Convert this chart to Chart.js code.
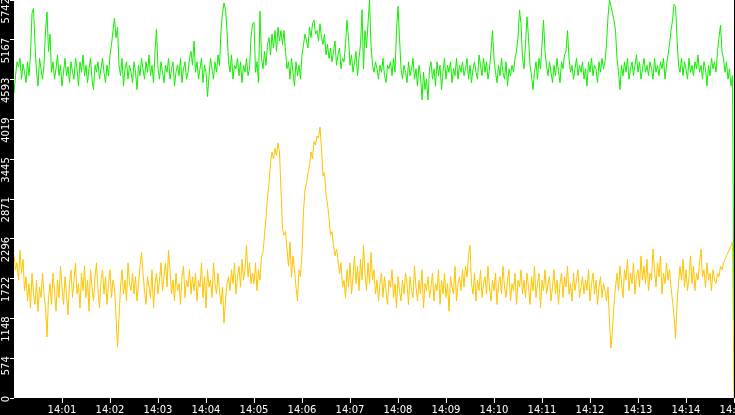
<!DOCTYPE html>
<html>
<head>
<meta charset="utf-8">
<script src="https://cdn.jsdelivr.net/npm/chart.js@4"></script>
<style>
  html, body { margin: 0; padding: 0; background: #000; }
  #wrap { width: 735px; height: 415px; }
</style>
</head>
<body>
<div id="wrap"><canvas id="chart" width="735" height="415"></canvas></div>
<script>
// one sample every 1.875 s, starting 14:00:00
var sampleSeconds = 1.875;

var xTickLabels = ['14:01', '14:02', '14:03', '14:04', '14:05', '14:06', '14:07', '14:08',
                   '14:09', '14:10', '14:11', '14:12', '14:13', '14:14', '14:15'];
var yTickLabels = ['0', '574', '1148', '1722', '2296', '2871', '3445', '4019', '4593', '5167', '5742'];
var yMax = 5742;

var greenValues = [
  4400,4650,4850,4780,4900,4600,4820,4700,4550,4850,4650,4950,5550,5620,5100,4700,4500,4900,4750,4600,
  4800,5300,5570,5000,5250,4700,4850,4600,4750,4950,4650,4800,4500,4700,4900,4650,4780,4550,4850,4700,
  4600,4900,4750,4500,4850,4700,4950,4650,4800,4550,4750,4900,4600,4450,4800,4700,4850,4600,4750,4900,
  4700,4550,4800,4650,4950,5100,5300,5480,5200,5350,4800,4650,4900,4500,4750,4850,4600,4800,4700,4550,
  4850,4700,4450,4800,4650,4900,4750,4600,4850,4700,4950,4650,4800,4550,5000,5320,4750,4600,4850,4700,
  4550,4800,4700,4900,4600,4750,4850,4500,4700,4800,4650,4900,4550,4750,4850,4600,4700,4900,5000,4800,
  5150,4700,4850,4600,4750,4900,4550,4800,4700,4350,4650,4900,4750,4600,4850,4700,4950,4800,5300,5550,
  5700,5600,5300,4850,4700,4950,4600,4800,4750,4900,4650,4850,4550,4800,4700,4900,4650,4750,5200,5400,
  5420,4700,4850,4550,5580,4900,4750,5000,4800,5100,5200,4950,5250,5050,5300,5000,5350,5150,5300,5100,
  5300,5000,4750,4850,4600,4900,4700,4500,4850,4650,4800,4600,4950,5100,5250,5150,5050,5350,5200,5400,
  5450,5250,5300,5150,5400,5200,5100,5250,4950,5100,4900,5050,4850,5000,5150,4800,4950,5050,4750,4900,
  4850,5100,5450,5200,4800,4950,4700,4850,5000,4650,4900,5100,5600,4750,5300,5050,5400,5740,5100,4800,
  4700,4850,4750,4600,4800,4700,4900,4650,4550,4800,4750,4850,4650,4900,4700,5300,5650,5200,4750,4600,
  4800,4700,4550,4850,4650,4750,4900,4600,4750,4500,4800,4650,4300,4700,4450,4600,4300,4750,4850,4600,
  4750,4500,4850,4650,4800,4450,4700,4900,4600,4800,4700,4850,4550,4750,4650,4900,4600,4800,4700,4850,
  4650,4750,4900,4600,4800,4550,4750,4850,4700,4600,4950,4800,4650,4900,4700,4850,4600,4750,5000,5300,
  4900,4700,4550,4800,4650,4900,4700,4600,4850,4500,4750,4650,4800,4700,4900,5000,5200,5600,5400,4900,
  4750,5100,5500,5200,4800,4650,4450,4700,4850,4600,4900,4750,5100,5450,5000,4800,4650,4850,4700,4550,
  4800,4650,4900,4700,4550,4850,4750,4950,5000,5300,4900,4700,4800,4600,4750,4900,4650,4800,4700,4850,
  4600,4750,4500,4850,4700,4900,4650,4800,4750,4550,4850,4700,4900,4750,4850,5100,5500,5740,5650,5550,
  5450,5300,4900,4700,4450,4800,4650,4850,4700,4900,4600,4750,4850,4650,4800,4950,4700,4850,4600,4750,
  4900,4700,4800,4650,4850,4750,4600,4900,4700,4800,4650,4850,4750,4900,4600,4800,4950,5100,5300,5450,
  5680,5650,5200,4800,4700,4900,4650,4850,4750,4600,4900,4700,4800,4650,4850,4750,4950,4700,4800,4600,
  4850,4750,4500,4800,4650,4900,4750,4850,4700,5000,5200,5380,5000,4900,4700,4850,4600,4750,4500,4650,
  1120
];

var yellowValues = [
  2050,1850,1950,1700,2130,1800,2000,1550,1750,1400,1650,1300,1800,1500,1350,1700,1250,1600,1450,1800,
  1500,1300,880,1450,1650,1350,1800,1550,1250,1700,1450,1900,1600,1350,1750,1500,1200,1650,1850,1450,
  1700,1950,1500,1650,1300,1800,1550,1900,1450,1700,1250,1850,1600,1400,1750,1950,1550,1300,1700,1850,
  1500,1750,1350,1650,1850,1450,1700,1600,1200,740,1150,1600,1850,1500,1700,1400,1950,1650,1550,1800,
  1500,1750,1400,1650,1900,2100,1800,1550,1350,1750,1600,1450,1850,1300,1650,1800,1500,1700,1950,1550,
  1750,1950,1600,2130,1850,1500,1700,1400,1800,1550,1650,1350,1750,1900,1450,1700,1600,1850,1500,1750,
  1550,1800,1400,1700,1600,1950,1450,1750,1300,1850,1600,1700,1450,1950,1650,1500,1800,1550,1350,1600,
  1080,1400,1650,1750,1550,1850,1650,1950,1500,1750,1900,1600,2000,1700,1850,2200,1750,1950,1650,1800,
  1650,1950,1550,1850,1700,2050,2100,2350,2600,2900,3100,3400,3550,3450,3600,3500,3680,3550,3000,2450,
  2350,2400,2150,1900,2250,1750,2050,1850,1600,1400,1850,1750,2100,2700,3000,3100,3250,3350,3550,3450,
  3700,3650,3780,3750,3910,3600,3200,3250,2950,2800,2600,2350,2400,2200,2050,2150,2000,1800,1950,1600,
  1700,1450,1850,1600,1950,1500,1750,2050,1650,1900,1550,2000,1700,2200,1800,1550,1950,1650,2100,1700,
  1850,1500,1700,1400,1650,1800,1450,1750,1550,1350,1700,1600,1850,1450,1650,1300,1750,1550,1400,1700,
  1500,1800,1650,1350,1750,1550,1450,1900,1600,1400,1700,1500,1850,1300,1650,1550,1750,1450,1600,1800,
  1400,1650,1550,1850,1350,1700,1500,1800,1450,1650,1250,1750,1600,1500,1900,1400,1650,1750,1550,1850,
  1600,1900,1750,2050,2200,1650,1500,1800,1400,1700,1550,1850,1450,1650,1750,1500,1900,1600,1400,1700,
  1550,1800,1350,1650,1750,1500,1900,1600,1450,1700,1850,1400,1650,1550,1800,1350,1700,1600,1850,1500,
  1700,1450,1800,1600,1350,1750,1550,1900,1450,1650,1800,1300,1700,1550,1850,1500,1650,1750,1400,1600,
  1850,1500,1700,1350,1650,1800,1450,1750,1600,1900,1500,1650,1400,1800,1550,1700,1850,1450,1600,1750,
  1500,1700,1550,1850,1400,1650,1800,1500,1700,1350,1600,1750,1450,1650,1550,1400,1600,1100,720,1000,
  1350,1600,1800,1550,1900,1650,1450,1850,1700,2000,1550,1800,1650,1950,1500,1750,1850,1600,2050,1700,
  1900,1650,2000,1550,1800,1700,2150,1850,1600,1950,1750,2050,1500,1800,1650,1950,1700,1850,1600,1400,
  1200,860,1350,1650,1900,1700,2000,1600,1850,1550,1750,2050,1650,1900,1550,1800,1700,1950,2150,1750,
  1850,1600,1950,1700,1800,1550,1850,1700,1650,1800,1750,1900,1850,1950,2000,2050,2100,2150,2200,2250,
  0
];

function toPoints(values) {
  return values.map(function (v, i) { return { x: i * sampleSeconds, y: v }; });
}

var tickFont = { family: 'DejaVu Sans', size: 10 };

// black canvas, white plot area
var backdrop = {
  id: 'backdrop',
  beforeDraw: function (chart) {
    var ctx = chart.ctx, a = chart.chartArea;
    ctx.save();
    ctx.fillStyle = '#000';
    ctx.fillRect(0, 0, chart.width, chart.height);
    ctx.fillStyle = '#fff';
    ctx.fillRect(a.left, a.top, a.right - a.left, a.bottom - a.top);
    ctx.restore();
  }
};

new Chart(document.getElementById('chart'), {
  type: 'line',
  data: {
    datasets: [{
      label: 'green',
      data: toPoints(greenValues),
      borderColor: '#11ee00',
      borderWidth: 1,
      pointRadius: 0,
      tension: 0
    }, {
      label: 'yellow',
      data: toPoints(yellowValues),
      borderColor: '#ffc400',
      borderWidth: 1,
      pointRadius: 0,
      tension: 0
    }]
  },
  options: {
    responsive: false,
    animation: false,
    layout: { padding: { left: 0, right: 1, top: 0, bottom: 0 } },
    plugins: { legend: { display: false }, tooltip: { enabled: false } },
    scales: {
      x: {
        type: 'linear',
        min: 0,
        max: 900,
        border: { display: false },
        grid: { drawOnChartArea: false, color: '#fff', tickLength: 5 },
        ticks: {
          color: '#fff', font: tickFont, padding: 1, maxRotation: 0, autoSkip: false,
          callback: function (v, i) { return xTickLabels[i]; }
        },
        afterBuildTicks: function (s) {
          s.ticks = xTickLabels.map(function (l, i) { return { value: (i + 1) * 60 }; });
        },
        afterFit: function (s) {
          s.height = 17;
          s.paddingLeft = 0;
          s.paddingRight = 0;
        }
      },
      y: {
        min: 0,
        max: yMax,
        border: { display: false },
        grid: { drawOnChartArea: false, color: '#fff', tickLength: 4 },
        ticks: {
          color: '#fff', font: tickFont, minRotation: 90, maxRotation: 90,
          padding: 4, labelOffset: -2, autoSkip: false,
          callback: function (v, i) { return yTickLabels[i]; }
        },
        afterBuildTicks: function (s) {
          s.ticks = yTickLabels.map(function (l, i) { return { value: i * yMax / 10 }; });
        },
        afterFit: function (s) {
          s.width = 14;
          s.paddingTop = 0;
          s.paddingBottom = 0;
        }
      }
    }
  },
  plugins: [backdrop]
});
</script>
</body>
</html>
